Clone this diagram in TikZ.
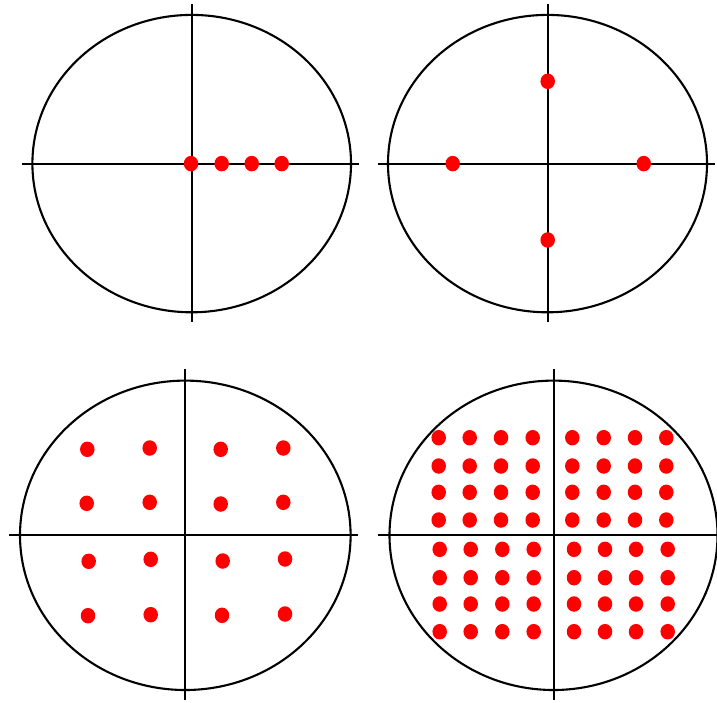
\documentclass[tikz,border=0pt]{standalone}
\usetikzlibrary{shapes.geometric}
\begin{document}
\begin{tikzpicture}[x=1pt,y=-1pt,
  rim/.style={line width=2.1pt,black},
  axis/.style={line width=2.2pt,black},
  dot/.style={ellipse,fill=red,inner sep=0pt,minimum width=14.5pt,minimum height=15.5pt}]
\useasboundingbox (0,0) rectangle (717,702);
\fill[white] (0,0) rectangle (717,702);
% panel 1
\draw[rim] (191.7,163.6) ellipse [x radius=159.3pt, y radius=148.7pt];
\coordinate (a1l) at (22,163.6); \coordinate (a1r) at (359,163.6);
\coordinate (a1t) at (191.7,4.3); \coordinate (a1b) at (191.7,322.3);
\draw[axis] (a1l) -- (a1r); \draw[axis] (a1t) -- (a1b);
\foreach \x [count=\i] in {191,221.7,251.7,281.7}
  \node[dot] (p1d\i) at (\x,163.6) {};
% panel 2
\draw[rim] (547.5,163.6) ellipse [x radius=159.5pt, y radius=148.7pt];
\coordinate (a2l) at (378,163.6); \coordinate (a2r) at (715,163.6);
\coordinate (a2t) at (547.7,4.3); \coordinate (a2b) at (547.7,322.3);
\draw[axis] (a2l) -- (a2r); \draw[axis] (a2t) -- (a2b);
\node[dot] (p2t) at (547.7,81.3) {};
\node[dot] (p2l) at (452.7,163.6) {};
\node[dot] (p2r) at (643.7,163.6) {};
\node[dot] (p2b) at (547.7,240) {};
% panel 3
\draw[rim] (185.3,535.3) ellipse [x radius=165.3pt, y radius=154.7pt];
\coordinate (a3l) at (9.3,535.3); \coordinate (a3r) at (358.3,535.3);
\coordinate (a3t) at (185.3,369.3); \coordinate (a3b) at (185.3,700);
\draw[axis] (a3l) -- (a3r); \draw[axis] (a3t) -- (a3b);
\node[dot] (p3a) at (87.3,449.3) {};
\node[dot] (p3b) at (149.7,448) {};
\node[dot] (p3c) at (220.7,449.3) {};
\node[dot] (p3d) at (283.3,448) {};
\node[dot] (p3e) at (86.7,503.3) {};
\node[dot] (p3f) at (149.7,502.3) {};
\node[dot] (p3g) at (220.7,504) {};
\node[dot] (p3h) at (283.3,502.3) {};
\node[dot] (p3i) at (88.7,561.3) {};
\node[dot] (p3j) at (150.7,559.3) {};
\node[dot] (p3k) at (222.7,561) {};
\node[dot] (p3l) at (285,559) {};
\node[dot] (p3m) at (88,615.7) {};
\node[dot] (p3n) at (150.7,614.7) {};
\node[dot] (p3o) at (222,615.3) {};
\node[dot] (p3p) at (285,614) {};
% panel 4
\draw[rim] (553.5,535.3) ellipse [x radius=164pt, y radius=154.7pt];
\coordinate (a4l) at (378,535.3); \coordinate (a4r) at (717,535.3);
\coordinate (a4t) at (554.3,369.3); \coordinate (a4b) at (554.3,700);
\draw[axis] (a4l) -- (a4r); \draw[axis] (a4t) -- (a4b);
\foreach \y [count=\j] in {437.7,466,492.3,520}
  \foreach \x [count=\i] in {438.7,469.7,501,532.7,572.3,603.7,635,666.3}
    \node[dot] (p4u\j\i) at (\x,\y) {};
\foreach \y [count=\j] in {549.3,577.7,604,631.7}
  \foreach \x [count=\i] in {439.7,470.7,502.3,533.7,574,605,636,667.7}
    \node[dot] (p4d\j\i) at (\x,\y) {};
\end{tikzpicture}
\end{document}
